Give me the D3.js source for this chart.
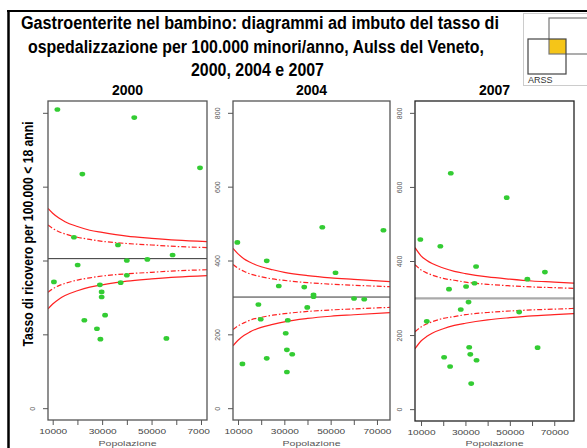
<!DOCTYPE html>
<html>
<head>
<meta charset="utf-8">
<script src="https://cdn.jsdelivr.net/npm/d3@7"></script>
<style>
  html, body { margin: 0; padding: 0; background: #fff; }
  svg { display: block; font-family: "Liberation Sans", Arial, sans-serif; }
</style>
</head>
<body>
<div id="chart"></div>
<script>
// ---- data ----
const years = ["2000", "2004", "2007"];
const titleLines = [
    "Gastroenterite nel bambino: diagrammi ad imbuto del tasso di",
    "ospedalizzazione per 100.000 minori/anno, Aulss del Veneto,",
    "2000, 2004 e 2007"
];
const yTitle = "Tasso di ricovero per 100.000 < 18 anni";
const xTitle = "Popolazione";

const xTicks = [10000, 20000, 30000, 40000, 50000, 60000, 70000];
const xTickLabels = [10000, 30000, 50000, 70000];
const yTicks = [0, 200, 400, 600, 800];

// mean rate per panel (horizontal reference line)
const meanRate = [405, 301, 299];

// 2000
const pop2000 = [11900, 43000, 22000, 69600, 18600, 36400, 58500, 48300, 40000, 20100, 10500,
                 40000, 37500, 29100, 29800, 29800, 31200, 22800, 27900, 29300, 56000];
const rate2000 = [809, 787, 634, 651, 463, 442, 415, 403, 400, 388, 342,
                  360, 340, 334, 315, 301, 252, 238, 215, 187, 189];
const limPop2000 = [8100, 10000, 12500, 15000, 20000, 25000, 30000, 40000, 50000, 60000, 72430];
const up3_2000 = [541, 528, 515, 505, 492, 482, 476, 466, 460, 455, 451];
const up2_2000 = [496, 487, 478, 472, 463, 457, 452, 446, 442, 438, 435];
const lo2_2000 = [314, 323, 332, 338, 347, 353, 358, 364, 368, 372, 375];
const lo3_2000 = [269, 282, 295, 305, 318, 328, 334, 344, 350, 355, 359];

// 2004
const pop2004 = [46400, 72800, 9700, 22400, 52100, 27600, 38600, 42600, 42600, 60100, 64500,
                 18800, 39900, 19800, 31500, 30600, 31100, 33400, 22400, 11900, 31100];
const rate2004 = [490, 482, 449, 399, 367, 331, 328, 307, 302, 297, 295,
                  281, 273, 241, 238, 203, 158, 146, 135, 120, 98];
const limPop2004 = [7830, 10000, 12500, 15000, 20000, 25000, 30000, 40000, 50000, 60000, 75630];
const up3_2004 = [433, 418, 405, 396, 383, 375, 368, 359, 353, 349, 343];
const up2_2004 = [389, 379, 371, 364, 356, 350, 346, 340, 336, 333, 329];
const lo2_2004 = [213, 223, 231, 238, 246, 252, 256, 262, 266, 269, 273];
const lo3_2004 = [169, 184, 197, 206, 219, 227, 234, 243, 249, 253, 259];

// 2007
const pop2007 = [23400, 48600, 9700, 18700, 34800, 65800, 57900, 34100, 30300, 22600, 31400,
                 27900, 54200, 12600, 62500, 31700, 32200, 20400, 35000, 23100, 32600];
const rate2007 = [637, 571, 458, 440, 385, 370, 351, 340, 331, 324, 289,
                  269, 262, 237, 166, 167, 148, 140, 132, 115, 69];
const limPop2007 = [7290, 10000, 12500, 15000, 20000, 25000, 30000, 40000, 50000, 60000, 70000, 78900];
const up3_2007 = [436, 414, 402, 393, 381, 372, 366, 357, 351, 346, 343, 340];
const up2_2007 = [390, 376, 368, 362, 353, 348, 343, 337, 333, 330, 328, 326];
const lo2_2007 = [209, 222, 230, 236, 245, 250, 255, 261, 265, 268, 270, 272];
const lo3_2007 = [163, 184, 196, 205, 217, 226, 232, 241, 247, 252, 255, 258];

const panelData = [
    { pop: pop2000, rate: rate2000, limPop: limPop2000, up3: up3_2000, up2: up2_2000, lo2: lo2_2000, lo3: lo3_2000 },
    { pop: pop2004, rate: rate2004, limPop: limPop2004, up3: up3_2004, up2: up2_2004, lo2: lo2_2004, lo3: lo3_2004 },
    { pop: pop2007, rate: rate2007, limPop: limPop2007, up3: up3_2007, up2: up2_2007, lo2: lo2_2007, lo3: lo3_2007 }
];

// ---- layout ----
const W = 587, H = 448;
const layout = [
    { clipX: 10, clipW: 200, left: 48, right: 207, top: 101, bottom: 420, xDom: [8100, 72430],
      meanColor: "#333", meanWidth: 1, box: "#555" },
    { clipX: 210, clipW: 185, left: 233, right: 390, top: 101, bottom: 420, xDom: [7830, 75630],
      meanColor: "#333", meanWidth: 1, box: "#555" },
    { clipX: 395, clipW: 192, left: 415, right: 574, top: 101, bottom: 421, xDom: [7290, 78900],
      meanColor: "#aaa", meanWidth: 2.2, box: "#222" }
];

const svg = d3.select("#chart").append("svg")
    .attr("width", W)
    .attr("height", H);

svg.append("rect").attr("width", W).attr("height", H).attr("fill", "#fff");

const defs = svg.append("defs");

layout.forEach((L, i) => {
    const d = panelData[i];

    // clip for the whole panel image and for the plot box
    defs.append("clipPath").attr("id", "panel" + i)
        .append("rect").attr("x", L.clipX).attr("y", 80).attr("width", L.clipW).attr("height", H - 80);
    defs.append("clipPath").attr("id", "box" + i)
        .append("rect").attr("x", L.left).attr("y", L.top)
        .attr("width", L.right - L.left).attr("height", L.bottom - L.top);

    const g = svg.append("g").attr("clip-path", `url(#panel${i})`);

    const x = d3.scaleLinear().domain(L.xDom).range([L.left, L.right]);
    const y = d3.scaleLinear().domain([-32, 832]).range([L.bottom, L.top]);

    // panel title
    g.append("text")
        .attr("x", (L.left + L.right) / 2)
        .attr("y", 95)
        .attr("text-anchor", "middle")
        .attr("font-size", 14)
        .attr("font-weight", "bold")
        .text(years[i]);

    const plot = g.append("g").attr("clip-path", `url(#box${i})`);

    // mean line
    plot.append("line")
        .attr("x1", L.left).attr("x2", L.right)
        .attr("y1", y(meanRate[i])).attr("y2", y(meanRate[i]))
        .attr("stroke", L.meanColor)
        .attr("stroke-width", L.meanWidth);

    // funnel limits
    const lim = d.limPop.map((p, k) => ({ p, up3: d.up3[k], up2: d.up2[k], lo2: d.lo2[k], lo3: d.lo3[k] }));
    const limits = [
        { key: "up3", dash: null },
        { key: "lo3", dash: null },
        { key: "up2", dash: "5,2,1.5,2" },
        { key: "lo2", dash: "5,2,1.5,2" }
    ];
    limits.forEach(l => {
        const line = d3.line()
            .x(v => x(v.p))
            .y(v => y(v[l.key]))
            .curve(d3.curveMonotoneX);
        plot.append("path")
            .datum(lim)
            .attr("d", line)
            .attr("fill", "none")
            .attr("stroke", "#f22")
            .attr("stroke-width", 1.2)
            .attr("stroke-dasharray", l.dash);
    });

    // points
    plot.selectAll("ellipse")
        .data(d.pop.map((p, k) => ({ p, r: d.rate[k] })))
        .join("ellipse")
        .attr("cx", v => x(v.p))
        .attr("cy", v => y(v.r))
        .attr("rx", 2.9)
        .attr("ry", 2.3)
        .attr("fill", "#33cc33");

    // box
    g.append("rect")
        .attr("x", L.left).attr("y", L.top)
        .attr("width", L.right - L.left).attr("height", L.bottom - L.top)
        .attr("fill", "none")
        .attr("stroke", L.box)
        .attr("stroke-width", 1.3);

    // x axis
    const xAxis = g.append("g")
        .attr("transform", `translate(0,${L.bottom})`)
        .call(d3.axisBottom(x)
            .tickValues(xTicks)
            .tickSize(5)
            .tickPadding(3)
            .tickFormat(v => xTickLabels.includes(v) ? String(v) : ""));
    xAxis.select(".domain").remove();
    xAxis.selectAll(".tick line").attr("stroke", "#555");
    xAxis.selectAll(".tick text")
        .attr("font-size", 8)
        .attr("font-family", "Liberation Sans, Arial, sans-serif")
        .attr("fill", "#444")
        .each(function () {
            if (this.textContent) {
                d3.select(this).attr("textLength", 28).attr("lengthAdjust", "spacingAndGlyphs");
            }
        });

    // y axis (labels rotated, as R draws them)
    const yAxis = g.append("g")
        .attr("transform", `translate(${L.left},0)`)
        .call(d3.axisLeft(y).tickValues(yTicks).tickSize(5));
    yAxis.select(".domain").remove();
    yAxis.selectAll(".tick line").attr("stroke", "#555");
    yAxis.selectAll(".tick text")
        .attr("x", 0)
        .attr("y", -13)
        .attr("dy", 0)
        .attr("transform", "rotate(-90)")
        .attr("text-anchor", "middle")
        .attr("font-size", 7)
        .attr("font-family", "Liberation Sans, Arial, sans-serif")
        .attr("fill", "#555");

    // x title
    g.append("text")
        .attr("x", (L.left + L.right) / 2)
        .attr("y", 446)
        .attr("text-anchor", "middle")
        .attr("font-size", 8)
        .attr("fill", "#555")
        .attr("textLength", 58)
        .attr("lengthAdjust", "spacingAndGlyphs")
        .text(xTitle);
});

// y title, pasted over the first panel's tick labels
svg.append("rect")
    .attr("x", 18).attr("y", 102).attr("width", 20).attr("height", 256)
    .attr("fill", "#fff");
svg.append("text")
    .attr("transform", "translate(33,234) scale(1.35,1) rotate(-90)")
    .attr("text-anchor", "middle")
    .attr("font-size", 10.5)
    .attr("font-weight", "bold")
    .attr("textLength", 225)
    .attr("lengthAdjust", "spacingAndGlyphs")
    .text(yTitle);

// main title
const titleSpecs = [
    { x: 21, y: 29, len: 478 },
    { x: 28, y: 53, len: 456 },
    { x: 191, y: 76, len: 133 }
];
titleLines.forEach((t, i) => {
    svg.append("text")
        .attr("x", titleSpecs[i].x)
        .attr("y", titleSpecs[i].y)
        .attr("font-size", 18)
        .attr("font-weight", "bold")
        .attr("textLength", titleSpecs[i].len)
        .attr("lengthAdjust", "spacingAndGlyphs")
        .text(t);
});

// frame lines
svg.append("line").attr("x1", 7).attr("x2", W).attr("y1", 11).attr("y2", 11)
    .attr("stroke", "#000").attr("stroke-width", 2);
svg.append("line").attr("x1", 8.5).attr("x2", 8.5).attr("y1", 10).attr("y2", H)
    .attr("stroke", "#000").attr("stroke-width", 2.5);

// ARSS logo
const logo = svg.append("g");
logo.append("rect").attr("x", 523.5).attr("y", 13.5).attr("width", 70).attr("height", 72)
    .attr("fill", "none").attr("stroke", "#ccc");
logo.append("rect").attr("x", 549).attr("y", 39).attr("width", 17).attr("height", 15)
    .attr("fill", "#f5c518");
logo.append("rect").attr("x", 549).attr("y", 18).attr("width", 45).attr("height", 36)
    .attr("fill", "none").attr("stroke", "#777").attr("stroke-width", 1.2);
logo.append("rect").attr("x", 528).attr("y", 39).attr("width", 38).attr("height", 35)
    .attr("fill", "none").attr("stroke", "#444").attr("stroke-width", 1.2);
logo.append("text").attr("x", 528).attr("y", 83)
    .attr("font-size", 9).attr("fill", "#333").text("ARSS");
</script>
</body>
</html>
